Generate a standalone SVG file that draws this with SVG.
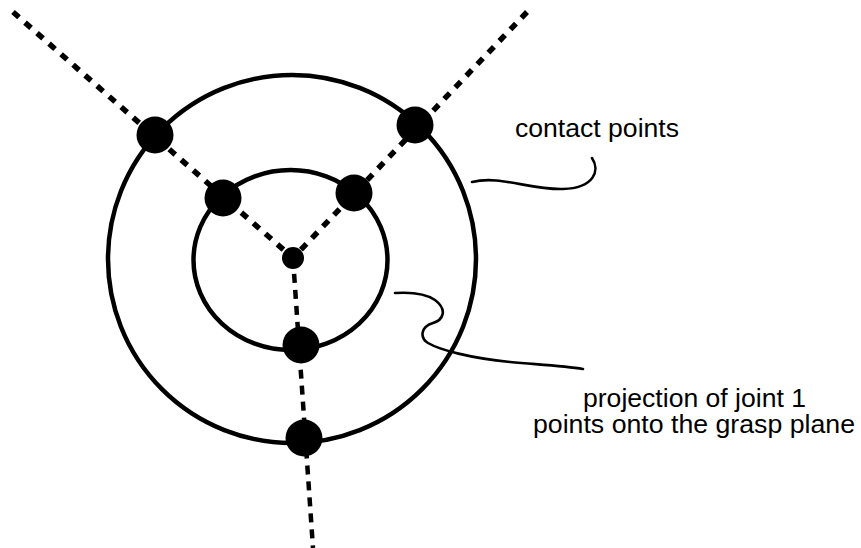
<svg xmlns="http://www.w3.org/2000/svg" width="861" height="548" viewBox="0 0 861 548">
<style>
.ring{fill:none;stroke:#000;stroke-width:4.5}
.dash{fill:none;stroke:#000;stroke-width:5.5;stroke-dasharray:8 8}
.dashv{fill:none;stroke:#000;stroke-width:4.5;stroke-dasharray:9 7}
.lead{fill:none;stroke:#000;stroke-width:2.6;stroke-linecap:round}
.dot{fill:#000}
.lbl{font-family:"Liberation Sans",Arial,Helvetica,sans-serif;font-size:25px;fill:#000}
</style>
<rect width="861" height="548" fill="#fff"/>
<g id="connectors">
<line class="dash" x1="13" y1="12" x2="293" y2="258"/>
<line class="dash" x1="527" y1="12" x2="293" y2="258"/>
<line class="dashv" x1="293" y1="258" x2="313" y2="548"/>
<path class="lead" d="M472,182 C500,175 530,190 563,189 C595,188 600,170 592,158"/>
<path class="lead" d="M395,293 C410,292 425,293 435,300 C448,310 443,320 433,323 C420,327 420,338 428,343 C440,350 470,358 510,362 C545,365 565,366 583,369"/>
</g>
<g id="outer-circle"><circle class="ring" cx="292" cy="259" r="184"/></g>
<g id="inner-circle"><ellipse class="ring" cx="290.5" cy="260" rx="97" ry="90"/></g>
<g id="center-point"><circle class="dot" cx="293" cy="258" r="11"/></g>
<g id="outer-contact-left"><circle class="dot" cx="155" cy="135" r="18.5"/></g>
<g id="outer-contact-right"><circle class="dot" cx="415" cy="125" r="18.5"/></g>
<g id="outer-contact-bottom"><circle class="dot" cx="304" cy="438" r="18.5"/></g>
<g id="inner-contact-left"><circle class="dot" cx="223" cy="198" r="18.5"/></g>
<g id="inner-contact-right"><circle class="dot" cx="354" cy="193" r="18.5"/></g>
<g id="inner-contact-bottom"><circle class="dot" cx="301" cy="345" r="18.5"/></g>
<g id="label-contact"><text class="lbl" x="515" y="137" textLength="164" lengthAdjust="spacingAndGlyphs">contact points</text></g>
<g id="label-projection">
<text class="lbl" x="583" y="407" textLength="223" lengthAdjust="spacingAndGlyphs">projection of joint 1</text>
<text class="lbl" x="533" y="433" textLength="322" lengthAdjust="spacingAndGlyphs">points onto the grasp plane</text>
</g>
</svg>
